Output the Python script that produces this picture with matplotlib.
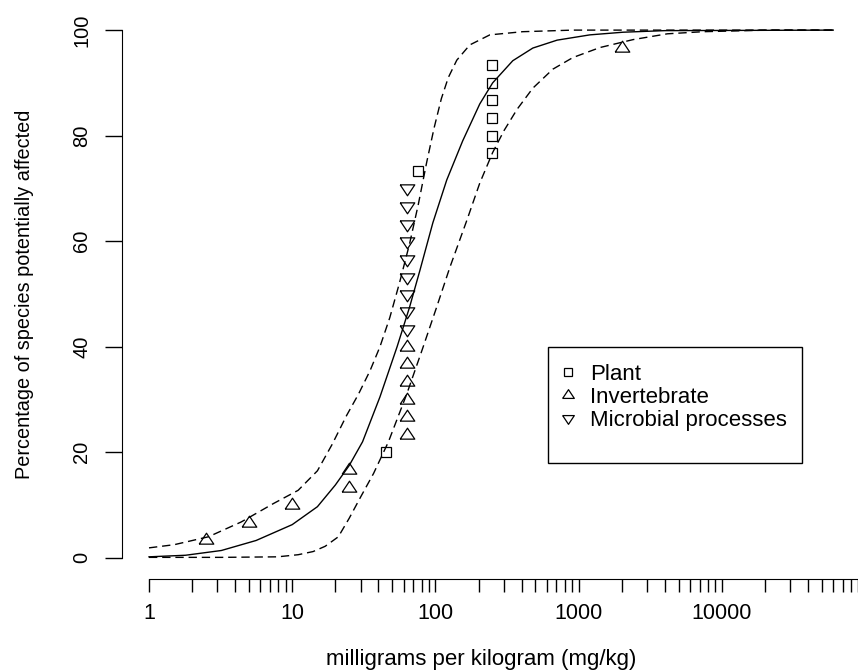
import matplotlib
matplotlib.use("Agg")
import matplotlib.pyplot as plt
from matplotlib.ticker import FixedLocator, NullFormatter
from matplotlib.patches import Rectangle

plt.rcParams["font.family"] = ["Liberation Sans", "DejaVu Sans"]

# fitted curve and confidence bounds (mg/kg, % of species)
fit_x = [1, 1.8, 3.2, 5.6, 10, 15, 20, 25, 31, 41, 54, 66, 78, 96, 120, 155, 204,
         251, 347, 479, 708, 1200, 2040, 3980, 60000]
fit_y = [0.2, 0.5, 1.4, 3.3, 6.3, 9.7, 13.8, 17.5, 22.0, 30.5, 40.0, 47.5, 54.5, 63.5,
         71.6, 79.0, 86.0, 90.0, 94.2, 96.6, 98.1, 99.1, 99.6, 99.9, 100]

upper_x = [1, 1.5, 2.6, 4.4, 7.4, 11, 15, 19, 24, 29, 35, 41, 48, 56, 66, 76, 87, 98,
           110, 123, 141, 174, 240, 407, 912, 60000]
upper_y = [1.9, 2.5, 4.0, 6.8, 10.3, 12.8, 16.5, 21.5, 27.0, 31.0, 35.5, 40.0, 45.5,
           52.0, 59.5, 67.0, 75.0, 81.5, 87.0, 91.0, 94.3, 97.2, 99.1, 99.7, 100, 100]

lower_x = [1, 3.2, 7.9, 11, 14, 17, 21, 25, 30, 37, 47, 63, 81, 102, 126, 166, 204, 251,
           302, 372, 479, 661, 912, 1410, 2400, 4170, 7410, 20900, 60000]
lower_y = [0.1, 0.1, 0.2, 0.6, 1.2, 2.2, 4.0, 7.5, 11.5, 16.0, 22.0, 31.0, 39.5, 47.5,
           55.0, 64.0, 71.0, 76.8, 81.0, 85.0, 89.0, 92.6, 94.8, 96.7, 98.2, 99.3, 99.7,
           100, 100]

# observed species
plant_x = [45, 75, 250, 250, 250, 250, 250, 250]
plant_y = [20.0, 73.3, 76.7, 80.0, 83.3, 86.7, 90.0, 93.3]
invert_x = [2.5, 5, 10, 25, 25, 63, 63, 63, 63, 63, 63, 2000]
invert_y = [3.3, 6.7, 10.0, 13.3, 16.7, 23.3, 26.7, 30.0, 33.3, 36.7, 40.0, 96.7]
microb_x = [63, 63, 63, 63, 63, 63, 63, 63, 63]
microb_y = [43.3, 46.7, 50.0, 53.3, 56.7, 60.0, 63.3, 66.7, 70.0]

labels = ["Plant", "Invertebrate", "Microbial processes"]
xticks = [1, 10, 100, 1000, 10000]
yticks = [0, 20, 40, 60, 80, 100]

W, H = 858, 672
fig = plt.figure(figsize=(W / 100, H / 100), dpi=100)
ax = fig.add_axes([122 / W, 93 / H, 740 / W, 570 / H])
ax.set_xscale("log")
ax.set_xlim(10 ** -0.1885, 10 ** 4.979)
ax.set_ylim(-4, 104)

dash = (0, (6, 3.5))
ax.plot(fit_x, fit_y, color="black", lw=1.0)
ax.plot(upper_x, upper_y, color="black", lw=1.0, linestyle=dash)
ax.plot(lower_x, lower_y, color="black", lw=1.0, linestyle=dash)

tri_up = [(-1, -0.5), (1, -0.5), (0, 1), (-1, -0.5)]
tri_dn = [(-1, 0.5), (1, 0.5), (0, -1), (-1, 0.5)]
h1, = ax.plot(plant_x, plant_y, "s", ms=7, mfc="none", mec="black", mew=0.9, ls="none")
h2, = ax.plot(invert_x, invert_y, marker=tri_up, ms=10.5, mfc="none", mec="black",
              mew=0.9, ls="none")
h3, = ax.plot(microb_x, microb_y, marker=tri_dn, ms=10.5, mfc="none", mec="black",
              mew=0.9, ls="none")

for side in ["top", "right"]:
    ax.spines[side].set_visible(False)
ax.spines["left"].set_bounds(0, 100)
ax.spines["bottom"].set_bounds(1, 90000)

ax.set_xticks(xticks)
ax.set_xticklabels([str(t) for t in xticks])
minor = [m * 10 ** k for k in range(5) for m in range(2, 10)]
ax.xaxis.set_minor_locator(FixedLocator(minor))
ax.xaxis.set_minor_formatter(NullFormatter())
ax.tick_params(axis="x", which="both", length=9.4, width=1, pad=8, labelsize=15.5)

ax.set_yticks(yticks)
ax.set_yticklabels([str(t) for t in yticks], rotation=90, va="center")
ax.tick_params(axis="y", length=12, width=1, pad=10, labelsize=14.5)

ax.set_xlabel("milligrams per kilogram (mg/kg)", fontsize=16, va="center")
ax.xaxis.set_label_coords((481 - 122) / 740, -80 / 570)
ax.set_ylabel("Percentage of species potentially affected", fontsize=14.3, va="center")
ax.yaxis.set_label_coords((25 - 122) / 740, (579 - 294) / 570)

leg = ax.legend([h1, h2, h3], labels, loc="upper left",
                bbox_to_anchor=(557 / W, 1 - 364 / H), bbox_transform=fig.transFigure,
                frameon=False, fontsize=16, borderpad=0, borderaxespad=0,
                handlelength=1.0, handletextpad=0.5, labelspacing=0.08)
for lh in leg.legend_handles:
    lh.set_markersize(lh.get_markersize() * 0.8)
fig.patches.append(Rectangle((548 / W, 1 - 463 / H), (802 - 548) / W, (463 - 347) / H,
                             transform=fig.transFigure, fill=False, ec="black", lw=1.0))

fig.savefig("out.png", dpi=100)
